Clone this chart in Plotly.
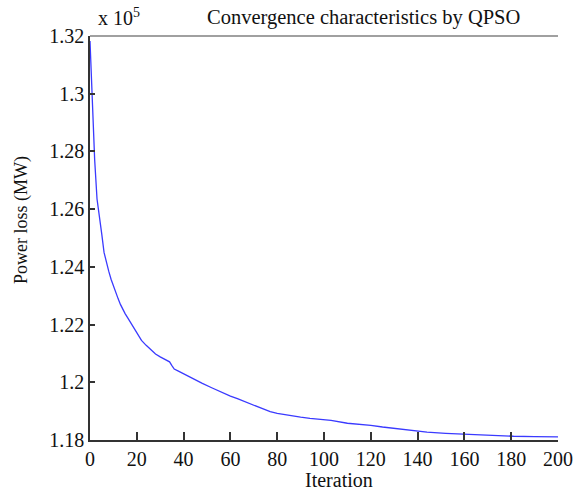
import plotly.graph_objects as go

# Data (power loss, x 10^5 MW)
iterations = [0, 1, 2, 3, 4, 5, 6, 7, 8, 9, 10, 11, 12, 13, 14, 15, 16, 17, 18,
              20, 22, 24, 26, 28, 30, 32, 34, 35, 36, 38, 41, 45, 48, 52, 56,
              60, 63, 66, 70, 74, 77, 80, 84, 90, 94, 100, 103, 110, 115, 120,
              125, 130, 137, 144, 152, 160, 166, 175, 181, 190, 200]
power_loss = [1.3183, 1.2973, 1.2770, 1.2635, 1.2565, 1.2515, 1.2450, 1.2415,
              1.2385, 1.2357, 1.2333, 1.2310, 1.2290, 1.2270, 1.2252, 1.2238,
              1.2225, 1.2212, 1.2198, 1.2172, 1.2145, 1.2128, 1.2112, 1.2098,
              1.2088, 1.2080, 1.2071, 1.2058, 1.2046, 1.2038, 1.2025, 1.2010,
              1.1996, 1.1981, 1.1966, 1.1952, 1.1943, 1.1933, 1.1921, 1.1907,
              1.1898, 1.1892, 1.1886, 1.1879, 1.1875, 1.1871, 1.1868, 1.1858,
              1.1855, 1.1851, 1.1845, 1.1840, 1.1834, 1.1827, 1.1823, 1.1820,
              1.1818, 1.1816, 1.1813, 1.1812, 1.1811]

x_tickvals = [0, 20, 40, 60, 80, 100, 120, 140, 160, 180, 200]
y_tickvals = [1.18, 1.20, 1.22, 1.24, 1.26, 1.28, 1.30, 1.32]
y_ticktext = ["1.18", "1.2", "1.22", "1.24", "1.26", "1.28", "1.3", "1.32"]

title_text = "Convergence characteristics by QPSO"
x_title = "Iteration"
y_title = "Power loss (MW)"
scale_text = "x 10<sup>5</sup>"

FONT = "Liberation Serif, Times New Roman, serif"

fig = go.Figure()
fig.add_trace(go.Scatter(
    x=iterations, y=power_loss, mode="lines",
    line=dict(color="#3a3aff", width=1.3),
    showlegend=False, hoverinfo="skip",
))

fig.update_layout(
    width=577, height=492,
    margin=dict(l=90, r=19, t=36, b=52, autoexpand=False),
    paper_bgcolor="white", plot_bgcolor="white",
    font=dict(family=FONT, size=20, color="#111"),
    xaxis=dict(
        range=[0, 200], tickvals=x_tickvals, ticks="inside", ticklen=8,
        tickwidth=1.5, tickcolor="#333", showline=True, linecolor="#333",
        linewidth=1.5, showgrid=False, zeroline=False, automargin=False,
        tickfont=dict(family=FONT, size=20, color="#111"),
    ),
    yaxis=dict(
        range=[1.18, 1.32], tickvals=y_tickvals, ticktext=y_ticktext,
        ticks="inside", ticklen=5, tickwidth=1.5, tickcolor="#333",
        showline=True, linecolor="#333", linewidth=1.5, showgrid=False,
        zeroline=False, automargin=False,
        tickfont=dict(family=FONT, size=20, color="#111"),
    ),
    shapes=[dict(type="line", xref="paper", yref="paper", x0=0, x1=1, y0=1, y1=1,
                 line=dict(color="#808080", width=1.5))],
    annotations=[
        dict(text=title_text, xref="paper", yref="paper", x=0.585, y=1.047,
             xanchor="center", yanchor="middle", showarrow=False,
             font=dict(family=FONT, size=20.5, color="#111")),
        dict(text=scale_text, xref="paper", yref="paper", x=0.013, y=1.047,
             xanchor="left", yanchor="middle", showarrow=False,
             font=dict(family=FONT, size=20, color="#111")),
        dict(text=x_title, xref="paper", yref="paper", x=0.532, y=-0.099,
             xanchor="center", yanchor="middle", showarrow=False,
             font=dict(family=FONT, size=20, color="#111")),
        dict(text=y_title, xref="paper", yref="paper", x=-0.145, y=0.545,
             xanchor="center", yanchor="middle", textangle=-90, showarrow=False,
             font=dict(family=FONT, size=18, color="#111")),
    ],
)

fig.write_html(
    "out.html",
    config={"displayModeBar": False},
    post_script="document.body.style.margin='0';document.body.style.padding='0';"
                "document.documentElement.style.overflow='hidden';",
)
